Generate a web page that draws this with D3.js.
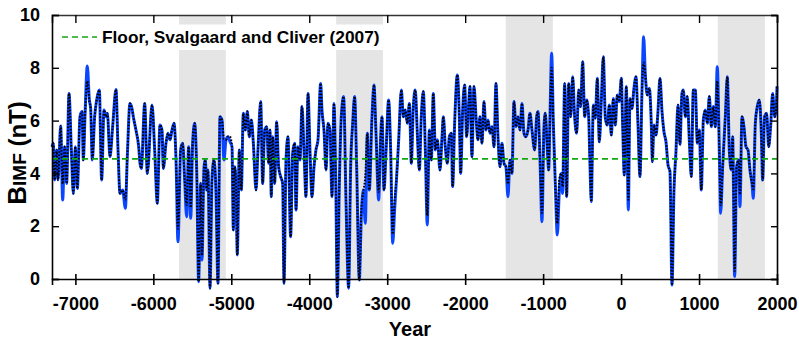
<!DOCTYPE html>
<meta charset="utf-8">
<style>
  body { margin: 0; background: #fff; }
  text { font-family: "Liberation Sans", Arial, sans-serif; font-weight: bold; }
</style>
<svg width="799" height="343"></svg>
<script src="https://d3js.org/d3.v7.min.js"></script>
<script>
  // years and B_IMF values (nT)
  var years = [
    -7300, -7283, -7266, -7240, -7223, -7189, -7163, -7138, -7112, -7082, -7052, -7026, -7001, -6975,
    -6941, -6915, -6898, -6877, -6847, -6821, -6804, -6783, -6753, -6727, -6693, -6663, -6633, -6607,
    -6590, -6556, -6522, -6479, -6453, -6428, -6394, -6359, -6334, -6300, -6274, -6257, -6223, -6188,
    -6171, -6154, -6111, -6077, -6017, -5983, -5949, -5915, -5889, -5872, -5838, -5812, -5786, -5761,
    -5735, -5709, -5684, -5650, -5624, -5598, -5573, -5547, -5521, -5496, -5470, -5444, -5419, -5393,
    -5376, -5350, -5333, -5316, -5299, -5273, -5248, -5222, -5196, -5171, -5145, -5119, -5094, -5068,
    -5042, -5017, -4991, -4974, -4957, -4940, -4923, -4897, -4871, -4846, -4820, -4794, -4769, -4743,
    -4717, -4683, -4658, -4623, -4598, -4572, -4546, -4521, -4504, -4487, -4469, -4444, -4418, -4393,
    -4367, -4341, -4324, -4298, -4273, -4239, -4213, -4187, -4170, -4145, -4119, -4093, -4068, -4042,
    -4016, -3991, -3965, -3939, -3914, -3888, -3854, -3837, -3811, -3785, -3760, -3734, -3708, -3683,
    -3657, -3640, -3614, -3589, -3559, -3529, -3495, -3469, -3443, -3418, -3392, -3358, -3332, -3307,
    -3281, -3255, -3230, -3195, -3170, -3144, -3110, -3084, -3067, -3041, -3016, -2982, -2956, -2930,
    -2905, -2879, -2853, -2819, -2793, -2768, -2742, -2716, -2708, -2691, -2665, -2640, -2614, -2588,
    -2563, -2537, -2511, -2486, -2460, -2434, -2409, -2383, -2357, -2323, -2297, -2280, -2255, -2229,
    -2203, -2178, -2161, -2135, -2101, -2075, -2058, -2032, -2007, -1981, -1955, -1938, -1913, -1887,
    -1861, -1836, -1810, -1784, -1759, -1733, -1707, -1682, -1656, -1630, -1605, -1579, -1554, -1528,
    -1502, -1477, -1451, -1425, -1400, -1374, -1348, -1323, -1297, -1271, -1246, -1220, -1194, -1169,
    -1143, -1109, -1083, -1066, -1040, -1015, -989, -972, -946, -929, -912, -891, -869, -844,
    -818, -792, -767, -750, -724, -698, -673, -647, -621, -596, -570, -544, -519, -493,
    -467, -442, -416, -399, -382, -356, -331, -305, -279, -254, -228, -202, -177, -151,
    -125, -100, -74, -49, -23, 3, 20, 41, 67, 93, 114, 140, 165, 191,
    217, 242, 268, 289, 311, 336, 362, 388, 401, 422, 448, 473, 499, 525,
    550, 576, 602, 627, 653, 678, 704, 730, 755, 781, 798, 824, 849, 875,
    901, 926, 952, 978, 1003, 1029, 1055, 1080, 1106, 1132, 1157, 1183, 1209, 1234,
    1260, 1277, 1303, 1337, 1363, 1388, 1414, 1431, 1457, 1482, 1508, 1525, 1551, 1576,
    1602, 1628, 1653, 1679, 1696, 1722, 1747, 1773, 1799, 1816, 1841, 1867, 1893, 1918,
    1944, 1970, 1995, 2000
  ];
  var bimf = [
    5.01, 5.14, 3.75, 4.89, 3.75, 5.80, 2.99, 5.01, 3.62, 7.03, 4.89, 3.24, 5.01, 3.43,
    6.15, 6.34, 4.51, 6.15, 8.07, 6.78, 6.46, 4.51, 6.15, 6.78, 7.16, 3.75, 6.40, 6.15,
    6.28, 4.63, 5.77, 7.18, 4.89, 3.24, 3.37, 2.68, 4.63, 6.65, 6.46, 6.15, 5.64, 5.01,
    4.38, 4.19, 6.65, 4.00, 6.59, 4.89, 2.87, 5.83, 5.64, 4.19, 5.14, 5.52, 5.27, 5.64,
    5.90, 4.51, 1.41, 4.89, 5.14, 3.75, 2.36, 5.01, 2.30, 5.14, 5.90, 4.13, -0.10, 3.62,
    0.72, 4.25, 4.51, 3.37, 4.13, -0.35, 3.75, 4.51, 3.24, -0.16, 6.15, 6.02, 4.51, 5.27,
    5.39, 5.20, 5.01, 1.86, 4.25, 3.62, 0.91, 4.89, 3.37, 6.28, 5.64, 6.34, 5.39, 6.02,
    5.14, 3.37, 4.89, 6.72, 3.62, 5.64, 5.77, 4.38, 5.64, 3.12, 5.39, 3.62, 5.96, 4.25,
    3.88, 3.62, -0.16, 4.51, 5.39, 1.60, 4.76, 5.14, 2.61, 5.01, 4.51, 6.53, 4.89, 3.12,
    7.03, 4.89, 3.12, 4.25, 4.89, 5.27, 7.41, 6.40, 5.64, 4.13, 5.90, 5.64, 3.12, 6.65,
    2.99, -0.67, 3.62, 6.15, 6.91, 2.99, -0.35, 4.25, 5.90, 6.91, 4.25, -0.04, 2.36, 3.37,
    2.11, 5.52, 3.37, 6.15, 7.35, 5.52, 2.99, 5.39, 6.15, 3.37, 4.76, 6.78, 4.89, 1.35,
    2.61, 3.88, 5.27, 7.16, 6.15, 6.40, 5.90, 6.65, 6.15, 4.38, 6.53, 7.16, 5.52, 4.13,
    6.15, 7.10, 4.89, 2.05, 5.64, 4.51, 7.03, 4.89, 5.27, 4.13, 5.39, 6.15, 5.01, 4.38,
    5.39, 5.52, 3.50, 5.90, 7.73, 6.15, 4.00, 6.40, 7.35, 5.39, 6.65, 7.29, 4.63, 7.29,
    6.15, 5.27, 6.15, 5.14, 6.72, 5.64, 6.02, 5.52, 5.77, 5.01, 7.41, 5.39, 4.25, 5.14,
    4.38, 4.25, 3.12, 4.51, 4.00, 6.72, 5.77, 6.15, 5.64, 6.65, 5.52, 5.39, 5.64, 6.28,
    5.64, 4.89, 6.15, 6.34, 4.51, 2.17, 5.77, 6.28, 4.89, 4.13, 6.15, 8.55, 5.90, 3.62,
    1.67, 3.37, 4.00, 3.24, 7.41, 3.12, 7.41, 6.15, 7.66, 6.15, 5.52, 7.16, 6.53, 8.23,
    6.15, 6.78, 6.15, 4.32, 2.93, 6.59, 6.09, 7.60, 5.20, 6.72, 8.42, 6.09, 5.83, 6.59,
    5.45, 6.84, 5.83, 6.97, 6.72, 7.60, 5.83, 3.94, 7.29, 2.61, 6.84, 6.46, 7.22, 7.66,
    5.83, 3.88, 7.10, 9.18, 7.73, 6.97, 7.22, 5.83, 4.44, 5.83, 5.45, 6.34, 7.60, 6.34,
    5.58, 5.20, 4.32, 4.07, -0.23, 3.31, 4.82, 6.59, 5.10, 7.03, 7.16, 6.15, 6.91, 5.27,
    3.88, 7.16, 7.16, 5.14, 5.64, 3.37, 6.02, 6.40, 5.90, 6.91, 5.77, 6.53, 5.77, 8.04,
    4.89, 2.49, 4.25, 6.15, 7.66, 4.89, 4.13, 5.39, 0.09, 4.25, 4.51, 2.74, 6.15, 5.77,
    5.01, 4.89, 4.13, 3.62, 3.06, 5.90, 6.53, 6.78, 5.52, 3.75, 6.15, 6.28, 5.01, 5.77,
    7.03, 6.15, 6.78, 7.30
  ];
  // where the dotted black curve departs from the blue one
  var dotYears = [-7163, -6847, -6359, -5684, -5573, -5521, -5376, -5094, -5017, -3332, -3307, -3281,
    -3110, -2930, -2905, -2486, -1451, -1015, -891, -818, -792, -750, 93, 289, 1234, 1277, 1457, 1525, 1696];
  var dotValues = [3.6, 7.5, 3.0, 1.9, 2.8, 2.7, 0.9, 5.3, 5.4, 2.6, 3.3, 3.9,
    3.3, 1.7, 3.0, 2.4, 3.6, 2.5, 8.0, 2.1, 3.8, 3.5, 3.0, 8.2, 7.5, 2.8, 0.3, 3.2, 3.4];

  // grand minima shading (start, end year)
  var shadeStart = [-5670, -3655, -1480, 1240];
  var shadeEnd = [-5070, -3055, -875, 1845];

  var floorValue = 4.55;
  var legendLabel = "Floor, Svalgaard and Cliver (2007)";
  var xTicks = [-7000, -6000, -5000, -4000, -3000, -2000, -1000, 0, 1000, 2000];
  var yTicks = [0, 2, 4, 6, 8, 10];

  var svg = d3.select("svg"),
    margin = { top: 15, right: 22, bottom: 64, left: 52 },
    width = +svg.attr("width") - margin.left - margin.right,
    height = +svg.attr("height") - margin.top - margin.bottom;

  var g = svg.append("g")
    .attr("transform", "translate(" + margin.left + "," + margin.top + ")");

  var x = d3.scaleLinear().domain([-7300, 2000]).range([0, width]);
  var y = d3.scaleLinear().domain([0, 10]).range([height, 0]);

  var blue = years.map(function(d, i) { return [d, bimf[i]]; });
  var dotted = years.map(function(d, i) {
    var k = dotYears.indexOf(d);
    return [d, k < 0 ? bimf[i] : dotValues[k]];
  });

  // shaded periods
  g.selectAll(".shade")
    .data(shadeStart)
    .enter().append("rect")
    .attr("x", function(d) { return x(d); })
    .attr("y", 0)
    .attr("width", function(d, i) { return x(shadeEnd[i]) - x(d); })
    .attr("height", height)
    .attr("fill", "#e5e5e5");

  var line = d3.line()
    .x(function(d) { return x(d[0]); })
    .y(function(d) { return y(d[1]); })
    .curve(d3.curveMonotoneX);

  g.append("path")
    .datum(blue)
    .attr("fill", "none")
    .attr("stroke", "#0a45ff")
    .attr("stroke-width", 3)
    .attr("stroke-linejoin", "round")
    .attr("d", line);

  g.append("path")
    .datum(dotted)
    .attr("fill", "none")
    .attr("stroke", "#000")
    .attr("stroke-width", 2)
    .attr("stroke-dasharray", "1.6,1.6")
    .attr("d", line);

  g.append("line")
    .attr("x1", 0).attr("x2", width)
    .attr("y1", y(floorValue)).attr("y2", y(floorValue))
    .attr("stroke", "#12a812")
    .attr("stroke-width", 1.6)
    .attr("stroke-dasharray", "6,4");

  // legend box over the shading
  var legend = g.append("g");
  legend.append("rect")
    .attr("x", 1).attr("y", 9.5)
    .attr("width", 340).attr("height", 25.5)
    .attr("fill", "#fff");
  legend.append("line")
    .attr("x1", 10).attr("x2", 45)
    .attr("y1", 22).attr("y2", 22)
    .attr("stroke", "#12a812")
    .attr("stroke-width", 1.6)
    .attr("stroke-dasharray", "6,4");
  legend.append("text")
    .attr("x", 50).attr("y", 22)
    .attr("dy", "0.36em")
    .attr("font-size", 17.3)
    .text(legendLabel);

  // axes
  var fmt = function(d) { return d < 0 ? "-" + Math.abs(d) : "" + d; };

  g.append("g")
    .attr("transform", "translate(0," + height + ")")
    .call(d3.axisBottom(x).tickValues(xTicks).tickSize(6).tickFormat(fmt).tickPadding(12))
    .call(function(a) {
      a.select(".domain").attr("stroke-width", 1.6);
      a.selectAll(".tick line").attr("y1", -5).attr("stroke-width", 1.6);
      a.selectAll("text").attr("font-size", 18).attr("fill", "#000");
    });

  g.append("g")
    .call(d3.axisTop(x).tickValues(xTicks).tickSize(-8).tickFormat(""))
    .call(function(a) {
      a.select(".domain").attr("stroke", "#333").attr("stroke-width", 1.6);
      a.selectAll(".tick line").attr("stroke-width", 1.4);
    });

  g.append("g")
    .call(d3.axisLeft(y).tickValues(yTicks).tickSize(-7).tickPadding(12))
    .call(function(a) {
      a.select(".domain").attr("stroke-width", 1.6);
      a.selectAll(".tick line").attr("stroke-width", 1.4);
      a.selectAll("text").attr("font-size", 18).attr("fill", "#000");
    });

  g.append("g")
    .attr("transform", "translate(" + width + ",0)")
    .call(d3.axisRight(y).tickValues(yTicks).tickSize(-6).tickFormat(""))
    .call(function(a) {
      a.select(".domain").attr("stroke-width", 1.6);
      a.selectAll(".tick line").attr("stroke-width", 1.4);
    });

  // axis titles
  svg.append("text")
    .attr("x", 410).attr("y", 336)
    .attr("text-anchor", "middle")
    .attr("font-size", 20)
    .text("Year");

  var yt = svg.append("text")
    .attr("transform", "translate(26,153) rotate(-90)")
    .attr("text-anchor", "middle");
  yt.append("tspan").attr("font-size", 26).text("B");
  yt.append("tspan").attr("font-size", 19).text("IMF");
  yt.append("tspan").attr("font-size", 24).text(" (nT)");
</script>
